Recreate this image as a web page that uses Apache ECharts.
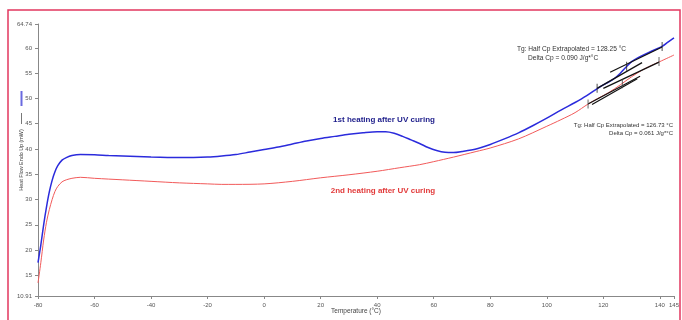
<!DOCTYPE html>
<html>
<head>
<meta charset="utf-8">
<script src="https://cdn.jsdelivr.net/npm/echarts@6/dist/echarts.min.js"></script>
<style>
  html, body { margin: 0; padding: 0; background: #fff; }
  #chart { width: 682px; height: 320px; }
</style>
</head>
<body>
<div id="chart"></div>
<script>
// DSC thermogram: heat flow vs temperature, two heating runs after UV curing
const FONT = 'Liberation Sans, Arial, sans-serif';

// Temperature ticks (°C) and heat-flow ticks (mW)
const xTicks = [-80, -60, -40, -20, 0, 20, 40, 60, 80, 100, 120, 140, 145];
const yTicks = [10.91, 15, 20, 25, 30, 35, 40, 45, 50, 55, 60, 64.74];

// 1st heating after UV curing: [temperature, heat flow]
const firstHeating = [
  [-80, 17.5], [-79, 21.0], [-78, 25.0], [-77, 28.5], [-76, 31.5], [-75, 33.8],
  [-74, 35.5], [-73, 36.7], [-71.5, 37.8], [-70, 38.3], [-68, 38.7], [-65, 38.9],
  [-60, 38.85], [-55, 38.7], [-50, 38.6], [-40, 38.4], [-30, 38.3], [-20, 38.4],
  [-15, 38.6], [-10, 38.9], [-5, 39.4], [0, 39.9], [5, 40.4], [10, 41.0],
  [15, 41.6], [20, 42.1], [25, 42.5], [30, 42.9], [35, 43.2], [40, 43.4],
  [43, 43.4], [46, 43.1], [49, 42.5], [52, 41.8], [55, 41.1], [58, 40.3],
  [61, 39.7], [64, 39.35], [67, 39.3], [70, 39.5], [75, 40.0], [80, 40.9],
  [85, 42.0], [90, 43.2], [95, 44.6], [100, 46.1], [105, 47.7], [110, 49.2],
  [114, 50.5], [118, 52.0], [120, 52.7], [122, 53.3], [124, 54.0], [126, 55.0],
  [128, 56.2], [130, 57.3], [132, 58.0], [135, 58.8], [138, 59.6], [140.8, 60.3],
  [143, 61.2], [145, 62.0]
];

// 2nd heating after UV curing: [temperature, heat flow]
const secondHeating = [
  [-80, 13.5], [-79, 17.5], [-78, 22.0], [-77, 25.5], [-76, 28.0], [-75, 30.0],
  [-74, 31.6], [-73, 32.6], [-71.5, 33.5], [-70, 33.9], [-68, 34.2], [-65, 34.4],
  [-60, 34.2], [-50, 33.9], [-40, 33.6], [-30, 33.3], [-20, 33.1], [-15, 33.0],
  [-10, 33.0], [0, 33.1], [10, 33.6], [20, 34.3], [30, 34.9], [40, 35.6],
  [48, 36.3], [55, 36.9], [60, 37.5], [67, 38.4], [75, 39.5], [80, 40.2],
  [90, 42.0], [100, 44.5], [105, 45.8], [110, 47.2], [114.6, 48.9], [118, 50.0],
  [122, 51.2], [126, 52.7], [130, 54.3], [134, 55.7], [138, 56.8], [140, 57.3],
  [145, 58.6]
];

// Glass-transition analysis: tangent construction lines [T, heat flow]
const tangentsFirst = [
  [[117.8, 52.0], [133.7, 57.1]],
  [[122.4, 55.2], [140.8, 60.2]]
];
const tangentsSecond = [
  [[114.6, 48.9], [133.0, 54.4]],
  [[116.0, 48.8], [132.0, 53.9]],
  [[120.0, 52.0], [139.7, 57.2]]
];
// Analysis limits and Tg markers [T, heat flow]
const limitsFirst = [[117.8, 52.0], [140.8, 60.3], [128.25, 56.4]];
const limitsSecond = [[114.6, 48.9], [139.7, 57.3], [126.73, 52.9]];

const tgFirstText = ['Tg: Half Cp Extrapolated = 128.25 °C', 'Delta Cp = 0.090 J/g*°C'];
const tgSecondText = ['Tg: Half Cp Extrapolated = 126.73 °C', 'Delta Cp = 0.061 J/g*°C'];
const curveNames = ['1st heating after UV curing', '2nd heating after UV curing'];

const chart = echarts.init(document.getElementById('chart'), null, { renderer: 'canvas' });

function tangentSeries(lines, color) {
  return lines.map(seg => ({
    type: 'line', data: seg, showSymbol: false, silent: true,
    lineStyle: { color: color, width: 1.2 }, z: 4
  }));
}

const axisLabelStyle = { fontFamily: FONT, fontSize: 6, color: '#555' };

const option = {
  animation: false,
  backgroundColor: '#fff',
  grid: { left: 38, right: 8, top: 24, bottom: 23, containLabel: false },
  xAxis: {
    type: 'value', min: -80, max: 145,
    name: 'Temperature (°C)', nameLocation: 'middle', nameGap: 12, nameMoveOverlap: false,
    nameTextStyle: { fontFamily: FONT, fontSize: 6.5, color: '#444' },
    axisLine: { show: true, lineStyle: { color: '#888', width: 1 } },
    axisTick: { show: true, length: 3, inside: false, customValues: xTicks, lineStyle: { color: '#888' } },
    axisLabel: Object.assign({ customValues: xTicks, margin: 6 }, axisLabelStyle),
    splitLine: { show: false }
  },
  yAxis: {
    type: 'value', min: 10.91, max: 64.74,
    name: 'Heat Flow Endo Up (mW)', nameLocation: 'middle', nameGap: 14, nameRotate: 90,
    nameMoveOverlap: false,
    nameTextStyle: { fontFamily: FONT, fontSize: 5.4, color: '#444' },
    axisLine: { show: true, onZero: false, lineStyle: { color: '#888', width: 1 } },
    axisTick: { show: true, length: 3, customValues: yTicks, lineStyle: { color: '#888' } },
    axisLabel: Object.assign({ customValues: yTicks, margin: 6 }, axisLabelStyle),
    splitLine: { show: false }
  },
  series: [
    {
      name: curveNames[0], type: 'line', data: firstHeating, smooth: 0.3,
      showSymbol: false, lineStyle: { color: '#2b2bdc', width: 1.5 }, z: 3
    },
    {
      name: curveNames[1], type: 'line', data: secondHeating, smooth: 0.3,
      showSymbol: false, lineStyle: { color: '#f25a5a', width: 1 }, z: 3
    },
    ...tangentSeries(tangentsFirst, '#111'),
    ...tangentSeries(tangentsSecond, '#111'),
    {
      type: 'scatter', data: limitsFirst, symbol: 'rect', symbolSize: [1, 9],
      itemStyle: { color: '#222' }, silent: true, z: 5
    },
    {
      type: 'scatter', data: limitsSecond, symbol: 'rect', symbolSize: [1, 9],
      itemStyle: { color: '#444' }, silent: true, z: 5
    }
  ],
  graphic: [
    // page frame
    { type: 'rect', shape: { x: 8, y: 10, width: 672, height: 330 },
      style: { fill: 'none', stroke: '#e2375f', lineWidth: 1.5 }, silent: true },
    // legend swatches beside the y-axis title
    { type: 'line', shape: { x1: 21.5, y1: 91, x2: 21.5, y2: 106 },
      style: { stroke: '#6a6ae0', lineWidth: 2 } },
    { type: 'line', shape: { x1: 21.5, y1: 113, x2: 21.5, y2: 124 },
      style: { stroke: '#555', lineWidth: 0.8 } },
    // curve titles
    { type: 'text', x: 384, y: 120, style: { text: curveNames[0], fill: '#1c1c8a',
      font: 'bold 8px ' + FONT, align: 'center', verticalAlign: 'middle' } },
    { type: 'text', x: 383, y: 191, style: { text: curveNames[1], fill: '#e23a3a',
      font: 'bold 8px ' + FONT, align: 'center', verticalAlign: 'middle' } },
    // Tg annotations
    { type: 'text', x: 517, y: 49, style: { text: tgFirstText[0], fill: '#333',
      font: '6.6px ' + FONT, align: 'left', verticalAlign: 'middle' } },
    { type: 'text', x: 528, y: 58, style: { text: tgFirstText[1], fill: '#333',
      font: '6.6px ' + FONT, align: 'left', verticalAlign: 'middle' } },
    { type: 'text', x: 673, y: 125, style: { text: tgSecondText[0], fill: '#333',
      font: '6px ' + FONT, align: 'right', verticalAlign: 'middle' } },
    { type: 'text', x: 673, y: 133, style: { text: tgSecondText[1], fill: '#333',
      font: '6px ' + FONT, align: 'right', verticalAlign: 'middle' } }
  ]
};

chart.setOption(option);
</script>
</body>
</html>
